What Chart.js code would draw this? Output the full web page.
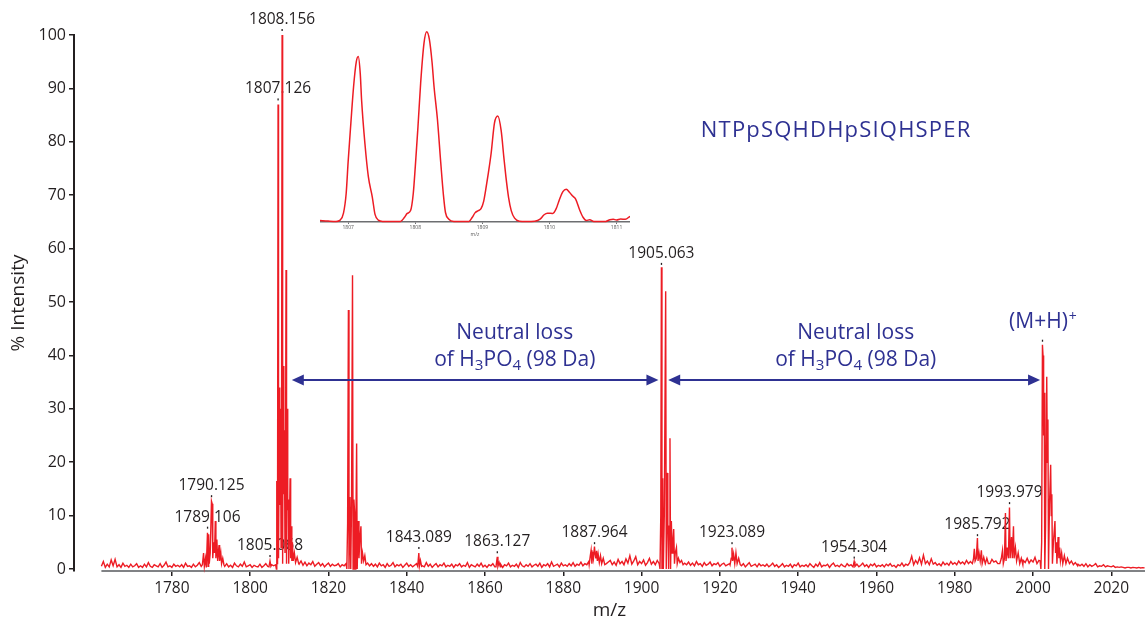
<!DOCTYPE html>
<html>
<head>
<meta charset="utf-8">
<script src="https://cdn.jsdelivr.net/npm/chart.js@4.4.0/dist/chart.umd.min.js"></script>
<style>
  body { margin: 0; background: #fff; }
  #wrap { position: relative; width: 1145px; height: 623px; }
  #inset { position: absolute; left: 320px; top: 28px; }
</style>
</head>
<body>
<div id="wrap">
  <canvas id="myChart" width="1145" height="623"></canvas>
  <canvas id="inset" width="310" height="210"></canvas>
</div>
<script>
// axis ticks
var xTicks = [1780, 1800, 1820, 1840, 1860, 1880, 1900, 1920, 1940, 1960, 1980, 2000, 2020];
var yTicks = [0, 10, 20, 30, 40, 50, 60, 70, 80, 90, 100];

// baseline noise, one value every 0.5 m/z from 1762
var noiseStart = 1762;
var noiseStep = 0.5;
var baselineNoise = [
  0.5,1.4,0.3,0.9,0.4,1.7,0.6,1.8,0.4,0.8,0.3,1.1,0.5,0.7,0.3,0.9,0.4,0.6,1.0,0.3,
  0.6,0.3,0.9,0.4,1.2,0.5,0.3,0.8,0.6,0.4,1.0,0.3,0.7,1.3,0.4,0.6,0.3,0.9,0.5,0.7,
  0.4,0.8,0.3,1.1,0.5,0.6,0.3,0.9,0.4,0.7,1.2,0.5,0.3,0.8,0.6,0.4,0.7,0.5,0.9,0.4,
  0.6,0.3,0.8,0.5,1.0,0.4,0.7,0.3,1.1,0.6,0.4,0.9,0.5,1.3,0.4,0.6,0.8,0.3,0.7,0.5,
  0.4,0.9,0.3,0.6,1.0,0.5,0.3,0.8,0.6,1.2,0.4,0.7,0.5,0.9,0.6,0.8,1.4,0.9,1.6,1.1,
  1.8,0.9,1.5,0.7,1.3,0.6,1.1,0.8,1.4,0.5,0.9,1.2,0.6,1.0,0.4,0.8,1.1,0.5,0.9,0.6,
  0.7,1.0,0.4,0.8,0.6,1.2,0.5,0.9,0.4,0.7,0.6,0.8,0.5,0.9,1.4,0.7,1.1,0.6,1.0,0.5,
  0.9,0.4,1.1,0.6,0.8,0.3,1.0,0.5,0.7,1.2,0.4,0.8,0.6,0.9,0.3,0.7,1.1,0.5,0.8,0.4,
  0.7,1.0,0.5,0.8,0.6,0.4,1.2,0.5,0.9,0.3,0.7,1.0,0.4,0.8,0.6,1.1,0.4,0.7,0.5,0.9,
  0.3,0.8,0.6,1.0,0.4,0.7,0.5,1.2,0.3,0.8,0.6,0.4,0.9,0.5,1.1,0.4,0.7,0.3,0.8,0.6,
  1.0,0.4,0.7,0.5,0.9,0.3,0.8,0.6,1.1,0.4,0.7,0.5,0.9,0.3,1.2,0.6,0.4,0.8,0.5,1.0,
  0.4,0.7,0.9,0.5,1.1,0.3,0.8,0.6,1.0,0.4,1.3,0.5,0.7,0.9,0.4,1.1,0.6,0.8,0.5,1.0,
  0.6,1.2,0.5,0.9,0.7,1.3,0.6,1.0,0.8,1.4,0.9,1.5,1.0,1.6,1.1,1.4,0.9,1.7,1.0,1.3,
  1.6,0.8,1.3,0.7,1.8,1.0,1.4,0.8,1.9,1.1,2.5,0.9,1.5,2.3,0.8,1.4,1.0,1.7,0.7,1.2,
  2.0,0.9,1.4,0.8,1.6,1.2,1.5,1.0,1.6,0.8,1.3,0.9,1.4,1.0,1.5,0.7,1.2,0.9,1.1,0.8,
  1.3,0.7,1.1,0.6,1.4,0.8,1.0,0.5,1.2,0.7,0.9,1.3,0.6,1.0,0.8,1.2,0.5,0.9,1.1,0.6,
  0.8,1.0,1.3,0.7,0.9,0.5,1.1,0.6,1.0,0.4,0.8,1.2,0.5,0.7,0.9,0.4,1.0,0.6,0.8,0.5,
  0.9,0.4,0.7,1.1,0.5,0.8,0.3,0.6,1.0,0.4,0.7,0.5,0.9,0.3,0.8,0.6,1.1,0.4,0.7,0.5,
  0.8,0.4,1.0,0.6,0.3,0.9,0.5,1.2,0.4,0.7,0.6,0.9,0.3,0.8,1.1,0.5,0.7,0.4,0.9,0.6,
  0.4,1.0,0.6,0.8,1.3,0.5,0.9,0.4,0.7,1.1,0.5,0.8,0.3,0.9,0.6,1.0,0.4,0.7,0.5,0.8,
  0.4,0.9,0.6,1.0,0.5,0.7,0.3,0.8,0.6,1.1,0.5,0.9,0.7,1.2,2.4,0.8,1.6,1.0,2.1,0.9,
  2.6,1.0,1.5,0.8,1.9,0.9,1.2,0.7,1.0,0.6,1.3,0.8,1.1,0.7,1.4,0.9,1.2,0.8,1.5,1.0,
  1.3,0.9,1.6,1.0,1.4,1.8,1.1,1.5,1.0,1.7,1.2,2.0,1.1,1.6,1.0,1.8,1.3,1.5,1.0,2.1,
  1.4,1.8,1.2,1.9,1.0,1.6,1.3,2.0,1.1,1.5,1.2,1.6,1.2,2.0,1.1,1.7,1.3,2.2,1.0,1.6,
  1.2,1.5,1.0,1.3,0.9,1.2,0.8,1.1,0.9,1.3,0.7,1.0,0.8,1.2,0.6,1.0,0.9,1.1,0.7,0.9,
  0.6,0.9,0.5,1.0,0.4,0.8,0.5,0.7,1.0,0.4,0.6,0.5,0.8,0.4,0.6,0.5,0.4,0.6,0.3,0.4,
  0.3,0.4,0.3,0.2,0.3,0.3,0.2,0.3,0.25,0.2,0.3,0.2,0.25,0.2
];

// peak clusters, [m/z, % intensity]
var cluster1790 = [[1787.8,0.8],[1788.1,3],[1788.3,0.5],[1788.6,2],[1788.8,0.3],[1789.1,6.8],[1789.25,0.5],[1789.4,6.5],[1789.55,1],[1789.8,3],[1790.12,12.7],[1790.3,12.2],[1790.45,2],[1790.7,5],[1790.9,3],[1791.1,9],[1791.25,2],[1791.5,5.5],[1791.7,1.5],[1792.05,4.5],[1792.2,1.5],[1792.5,3],[1792.7,1],[1793,2],[1793.3,0.8]];
var spike1805 = [[1804.8,0.4],[1805.07,1.5],[1805.3,0.5]];
var cluster1808 = [[1806.5,0.8],[1806.7,0],[1806.8,16.5],[1806.9,1],[1807.0,10],[1807.13,87],[1807.25,2],[1807.4,20],[1807.5,34],[1807.6,12],[1807.75,30],[1807.9,4],[1808.0,15],[1808.16,100],[1808.3,1],[1808.45,38],[1808.6,14],[1808.75,26],[1808.9,3],[1809.0,10],[1809.17,56],[1809.3,1],[1809.45,30],[1809.6,11],[1809.75,13],[1809.85,1],[1810.0,6],[1810.2,17],[1810.35,2],[1810.5,8],[1810.65,1.5],[1810.8,5],[1811.0,1.5],[1811.3,3],[1811.6,1.2],[1812.0,2.2],[1812.4,1]];
var cluster1826 = [[1824.5,1.0],[1824.7,0],[1824.9,8.6],[1825.1,48.5],[1825.25,0],[1825.5,13.5],[1825.7,0],[1825.9,12],[1826.15,55],[1826.3,0],[1826.5,13],[1826.7,10.5],[1826.85,0],[1827.0,7],[1827.2,23.5],[1827.35,0],[1827.6,9],[1827.8,2],[1828.0,5],[1828.3,8],[1828.45,1],[1828.7,3],[1829.0,1.5],[1829.3,2.5],[1829.6,0.8]];
var spike1843 = [[1842.8,0.5],[1843.09,3.0],[1843.25,0.6],[1843.5,1.6],[1843.8,0.5]];
var spike1863 = [[1862.8,0.4],[1863.13,2.3],[1863.3,0.5],[1863.6,1.2],[1863.9,0.4]];
var cluster1888 = [[1886.6,0.8],[1886.9,2.5],[1887.1,3.5],[1887.3,1],[1887.5,3.2],[1887.7,2],[1887.96,4.2],[1888.1,3],[1888.3,2],[1888.5,3.4],[1888.7,1.5],[1888.9,2.8],[1889.2,1.2],[1889.5,2.5],[1889.8,1],[1890.2,2],[1890.6,0.8]];
var cluster1905 = [[1904.5,1],[1904.7,0],[1904.9,10],[1905.06,56.5],[1905.2,0],[1905.4,17],[1905.55,0],[1905.8,10],[1906.15,52],[1906.3,0],[1906.5,18],[1906.7,8],[1906.9,0],[1907.05,8],[1907.25,24.5],[1907.4,0],[1907.6,9],[1907.8,3],[1908.0,5],[1908.2,7.5],[1908.4,1],[1908.6,3],[1908.9,4],[1909.1,1],[1909.4,2],[1909.8,1.2],[1910.2,1.6],[1910.6,0.8]];
var cluster1923 = [[1922.6,0.8],[1922.9,2],[1923.09,4],[1923.25,1.5],[1923.5,2.8],[1923.8,1],[1924.1,3],[1924.4,1],[1924.8,2],[1925.2,0.8]];
var spike1954 = [[1954.0,0.4],[1954.3,1.4],[1954.5,0.5]];
var cluster1986 = [[1984.5,1],[1984.8,2],[1985.0,3.8],[1985.2,1.5],[1985.5,2],[1985.79,5.8],[1985.95,1.5],[1986.2,3],[1986.5,1.5],[1986.8,3.5],[1987.0,1],[1987.4,2.2],[1987.8,1],[1988.2,2],[1988.6,1]];
var cluster1994 = [[1991.5,1],[1991.9,2],[1992.2,3.5],[1992.4,1],[1992.7,2],[1992.95,10.5],[1993.1,1.5],[1993.4,4],[1993.7,2],[1993.98,11.5],[1994.15,2],[1994.5,6],[1994.7,2],[1995.0,8],[1995.15,2],[1995.5,4],[1995.8,1.5],[1996.2,3],[1996.6,1],[1997.0,2],[1997.4,0.8]];
var cluster2003 = [[2001.8,1.5],[2002.0,0],[2002.2,5],[2002.4,42],[2002.55,40],[2002.7,25],[2002.85,33],[2003.0,0],[2003.2,8],[2003.5,36],[2003.65,20],[2003.8,28],[2003.95,0],[2004.2,12],[2004.5,19.5],[2004.65,10],[2004.8,14],[2004.95,1],[2005.2,5],[2005.6,9],[2005.75,3],[2005.95,5],[2006.1,1],[2006.4,6],[2006.6,2],[2006.8,4],[2007.0,1.5],[2007.3,3],[2007.6,1],[2008.0,2.5],[2008.4,1],[2008.8,2],[2009.3,1],[2009.8,1.5],[2010.3,0.8],[2010.8,1.2],[2011.4,0.6]];

// peak labels
var labelText = ['1808.156', '1807.126', '1790.125', '1789.106', '1805.068', '1843.089', '1863.127', '1887.964', '1905.063', '1923.089', '1954.304', '1985.792', '1993.979'];
var labelMz = [1808.156, 1807.126, 1790.125, 1789.106, 1805.068, 1843.089, 1863.127, 1887.964, 1905.063, 1923.089, 1954.304, 1985.792, 1993.979];
var labelInt = [100, 87, 12.7, 6.8, 1.5, 3.0, 2.2, 3.9, 56.2, 3.9, 1.2, 5.4, 11.4];
var parentMz = 2002.4, parentInt = 42;

// neutral loss arrows [from, to] at one level
var arrowLevel = 35.4;
var arrowSpans = [[1810.65, 1904.3], [1906.8, 2001.8]];
var lossTextMz = [1867.6, 1954.7];
var lossTextInt = [44.1, 39.1];
var peptide = 'NTPpSQHDHpSIQHSPER';
var peptideMz = 1949.7, peptideInt = 82;

// inset: isotope envelope
var insetTicks = [1807, 1808, 1809, 1810, 1811];
var insetMz = [1806.58,1806.7,1806.82,1806.88,1806.93,1806.97,1807.0,1807.04,1807.08,1807.12,1807.15,1807.18,1807.2,1807.25,1807.3,1807.36,1807.4,1807.45,1807.52,1807.65,
  1807.78,1807.84,1807.88,1807.93,1807.97,1808.0,1808.04,1808.08,1808.13,1808.17,1808.21,1808.25,1808.28,1808.33,1808.38,1808.42,1808.45,1808.5,1808.58,1808.7,
  1808.8,1808.85,1808.89,1808.94,1808.98,1809.02,1809.05,1809.09,1809.13,1809.18,1809.23,1809.28,1809.32,1809.35,1809.39,1809.43,1809.48,1809.55,1809.65,
  1809.78,1809.86,1809.92,1809.97,1810.05,1810.1,1810.15,1810.2,1810.25,1810.3,1810.35,1810.39,1810.45,1810.5,1810.55,1810.6,1810.66,1810.75,1810.84,1810.9,1810.95,1811.0,1811.06,1811.13,1811.2];
var insetInt = [0.8,0.5,0.3,1,4.7,15,32,52,71,84,87,78,64,41,24,13,4,1,0.3,0.2,
  0.3,2.5,4.5,6,15,29,50,73,94,100,96,84,71,54,31,14,5,1.5,0.3,0.2,
  0.3,2.5,4.8,6,7,11,17,26,36,52,55.7,48,34,24,13,6,2,0.4,0.2,
  0.4,1.5,3.8,4.6,4.5,7,12,16,17.2,15.5,13.5,12,6.3,2.5,0.8,1.2,0.3,0.2,0.3,1.2,1.4,1.1,1.6,1.4,3];

var RED = '#ed1c24';
var BLUE = '#2e3192';
var INK = '#231f20';
Chart.defaults.font.family = "'Open Sans', sans-serif";
Chart.defaults.color = INK;

// assemble spectrum: noise outside the clusters, clusters as read
var clusters = [cluster1790, spike1805, cluster1808, cluster1826, spike1843, spike1863, cluster1888, cluster1905, cluster1923, spike1954, cluster1986, cluster1994, cluster2003];
var spectrum = [];
baselineNoise.forEach(function (v, i) {
  var mz = noiseStart + i * noiseStep;
  var inside = clusters.some(function (c) { return mz >= c[0][0] && mz <= c[c.length - 1][0]; });
  if (!inside) spectrum.push({x: mz, y: v});
});
clusters.forEach(function (c) {
  c.forEach(function (p) { spectrum.push({x: p[0], y: p[1]}); });
});
spectrum.sort(function (a, b) { return a.x - b.x; });

function subText(c, parts, cx, cy, size) {
  // parts: [text, isSub]
  var w = 0;
  parts.forEach(function (p) {
    c.font = (p[1] ? size * 0.72 : size) + 'px "Open Sans"';
    w += c.measureText(p[0]).width;
  });
  var x = cx - w / 2;
  c.textAlign = 'left';
  parts.forEach(function (p) {
    c.font = (p[1] ? size * 0.72 : size) + 'px "Open Sans"';
    c.fillText(p[0], x, p[1] ? cy + size * 0.28 : cy);
    x += c.measureText(p[0]).width;
  });
}

function arrowHead(c, x, y, dir) {
  c.beginPath();
  c.moveTo(x, y);
  c.lineTo(x - dir * 12, y - 5.5);
  c.lineTo(x - dir * 12, y + 5.5);
  c.closePath();
  c.fill();
}

var annotate = {
  id: 'annotate',
  beforeDatasetsDraw: function (chart) {
    var c = chart.ctx, xs = chart.scales.x, ys = chart.scales.y, area = chart.chartArea;
    c.save();
    c.strokeStyle = '#808285';
    c.lineWidth = 2;
    c.beginPath();
    c.moveTo(xs.getPixelForValue(noiseStart), area.bottom);
    c.lineTo(area.right, area.bottom);
    c.stroke();

    c.fillStyle = INK;
    c.font = '15.5px "Open Sans"';
    c.textAlign = 'center';
    c.textBaseline = 'alphabetic';
    labelText.forEach(function (t, i) {
      var px = xs.getPixelForValue(labelMz[i]), py = ys.getPixelForValue(labelInt[i]);
      c.fillRect(px - 0.6, py - 6, 1.3, 2);
      c.fillText(t, px, py - 11);
    });
    c.restore();
  },
  afterDatasetsDraw: function (chart) {
    var c = chart.ctx, xs = chart.scales.x, ys = chart.scales.y;
    c.save();
    c.fillStyle = BLUE;
    c.strokeStyle = BLUE;
    c.textBaseline = 'middle';

    // parent ion
    var px = xs.getPixelForValue(parentMz), py = ys.getPixelForValue(parentInt);
    c.fillStyle = INK;
    c.fillRect(px - 0.6, py - 5, 1.3, 2);
    c.fillStyle = BLUE;
    c.font = '21px "Open Sans"';
    var w1 = c.measureText('(M+H)').width;
    c.font = '14px "Open Sans"';
    var w2 = c.measureText('+').width;
    c.textAlign = 'left';
    c.font = '21px "Open Sans"';
    c.fillText('(M+H)', px - (w1 + w2) / 2, py - 23);
    c.font = '14px "Open Sans"';
    c.fillText('+', px - (w1 + w2) / 2 + w1 + 1, py - 28);

    // arrows
    c.lineWidth = 2;
    var ay = ys.getPixelForValue(arrowLevel);
    arrowSpans.forEach(function (s) {
      var a = xs.getPixelForValue(s[0]), b = xs.getPixelForValue(s[1]);
      c.beginPath();
      c.moveTo(a + 8, ay);
      c.lineTo(b - 8, ay);
      c.stroke();
      arrowHead(c, a, ay, -1);
      arrowHead(c, b, ay, 1);
    });

    // neutral loss text
    lossTextMz.forEach(function (m) {
      var tx = xs.getPixelForValue(m);
      c.textAlign = 'center';
      c.font = '21px "Open Sans"';
      c.fillText('Neutral loss', tx, ys.getPixelForValue(lossTextInt[0]));
      subText(c, [['of H', false], ['3', true], ['PO', false], ['4', true], [' (98 Da)', false]], tx, ys.getPixelForValue(lossTextInt[1]), 21);
    });

    c.textAlign = 'center';
    c.font = '22px "Open Sans"';
    c.letterSpacing = '1.2px';
    c.fillText(peptide, xs.getPixelForValue(peptideMz), ys.getPixelForValue(peptideInt));
    c.restore();
  }
};

var ctx = document.getElementById('myChart').getContext('2d');
var myChart = new Chart(ctx, {
  type: 'line',
  data: {
    datasets: [{
      data: spectrum,
      borderColor: RED,
      borderWidth: 1.4,
      pointRadius: 0,
      tension: 0,
      clip: 6
    }]
  },
  options: {
    responsive: false,
    animation: false,
    layout: { padding: { top: 35, right: 0, bottom: 0, left: 0 } },
    plugins: { legend: { display: false }, tooltip: { enabled: false } },
    scales: {
      x: {
        type: 'linear',
        min: 1755,
        max: 2028.6,
        afterBuildTicks: function (s) { s.ticks = xTicks.map(function (v) { return {value: v}; }); },
        afterFit: function (s) { s.height = 52; },
        border: { display: false },
        grid: { drawOnChartArea: false, tickLength: 5, color: INK, lineWidth: 1.5 },
        ticks: { font: { size: 15.5 }, padding: 3, maxRotation: 0, color: INK, callback: function (v) { return String(v); } },
        title: { display: true, text: 'm/z', font: { size: 19 }, padding: { top: 0, bottom: 1 }, color: INK }
      },
      y: {
        min: -0.375,
        max: 100,
        afterBuildTicks: function (s) { s.ticks = yTicks.map(function (v) { return {value: v}; }); },
        afterFit: function (s) { s.width = 74; },
        border: { color: INK, width: 2 },
        grid: { drawOnChartArea: false, tickLength: 5, color: INK, lineWidth: 1.5 },
        ticks: { font: { size: 16 }, padding: 3, color: INK },
        title: { display: true, text: '% Intensity', font: { size: 19 }, padding: { top: 7, bottom: 0 }, color: INK }
      }
    }
  },
  plugins: [annotate]
});

var insetChart = new Chart(document.getElementById('inset').getContext('2d'), {
  type: 'line',
  data: {
    datasets: [{
      data: insetMz.map(function (m, i) { return {x: m, y: insetInt[i]}; }),
      borderColor: RED,
      borderWidth: 1.5,
      pointRadius: 0,
      cubicInterpolationMode: 'monotone',
      clip: 4
    }]
  },
  options: {
    responsive: false,
    animation: false,
    plugins: { legend: { display: false }, tooltip: { enabled: false } },
    scales: {
      x: {
        type: 'linear',
        min: 1806.58,
        max: 1811.2,
        afterBuildTicks: function (s) { s.ticks = insetTicks.map(function (v) { return {value: v}; }); },
        afterFit: function (s) { s.height = 16; },
        border: { color: '#6d6e71', width: 1.5 },
        grid: { drawOnChartArea: false, tickLength: 2, color: '#6d6e71' },
        ticks: { font: { size: 5 }, padding: 1, color: '#555', maxRotation: 0, callback: function (v) { return String(v); } },
        title: { display: true, text: 'm/z', font: { size: 5 }, padding: 0, color: '#555' }
      },
      y: { display: false, min: 0, max: 102 }
    }
  }
});
</script>
</body>
</html>
